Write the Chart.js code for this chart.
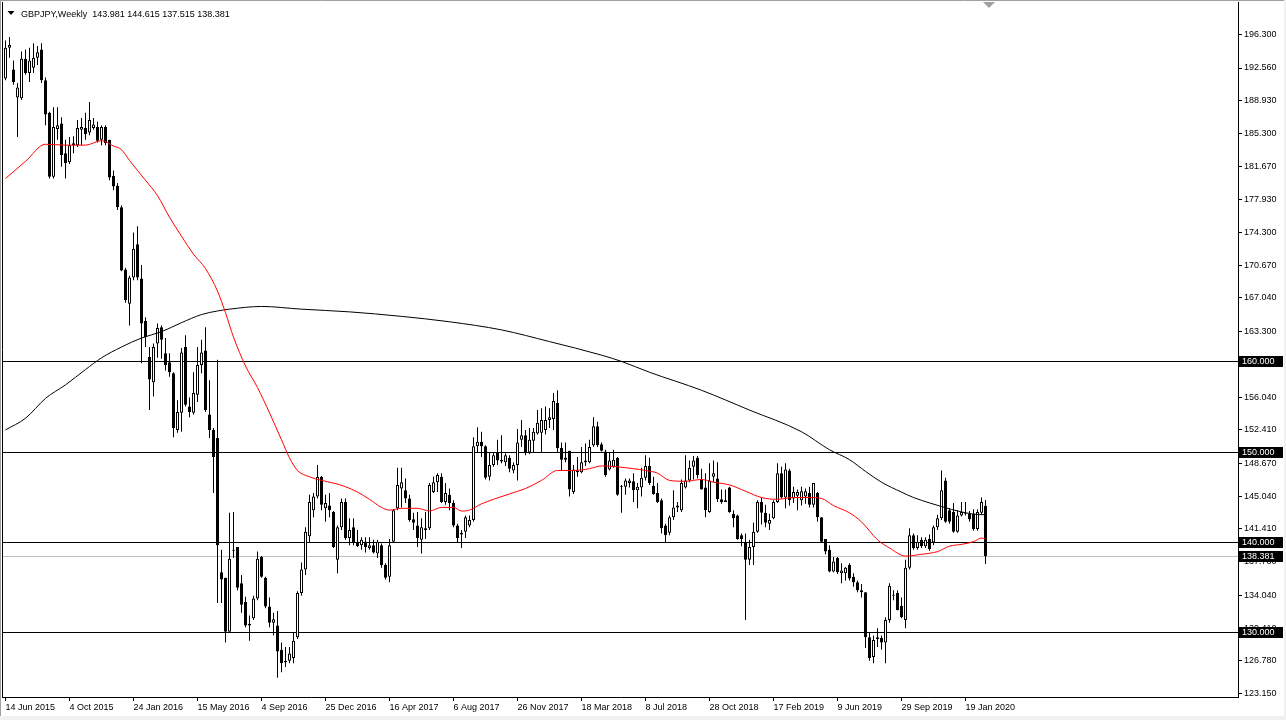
<!DOCTYPE html>
<html>
<head>
<meta charset="utf-8">
<title>GBPJPY Weekly</title>
<script src="https://cdn.jsdelivr.net/npm/chart.js@4.4.1/dist/chart.umd.min.js"></script>
<style>
  html, body { margin: 0; padding: 0; background: #fff; }
  #wrap { width: 1286px; height: 720px; }
</style>
</head>
<body>
<div id="wrap"><canvas id="myChart" width="1286" height="720"></canvas></div>
<script>
const symbolTitle = "GBPJPY,Weekly";
const lastBarText = "143.981 144.615 137.515 138.381";

// one date label every 16 weekly bars, starting at bar 0
const xTickStep = 16;
const xTickLabels = ["14 Jun 2015", "4 Oct 2015", "24 Jan 2016", "15 May 2016", "4 Sep 2016",
    "25 Dec 2016", "16 Apr 2017", "6 Aug 2017", "26 Nov 2017", "18 Mar 2018", "8 Jul 2018",
    "28 Oct 2018", "17 Feb 2019", "9 Jun 2019", "29 Sep 2019", "19 Jan 2020"];

const yTickValues = [196.300, 192.560, 188.930, 185.300, 181.670, 177.930, 174.300, 170.670,
    167.040, 163.300, 159.670, 156.040, 152.410, 148.670, 145.040, 141.410, 137.780, 134.040,
    130.410, 126.780, 123.150];

const levels = [160, 150, 140, 130];
const lastPrice = 138.381;

// weekly candles, 14 Jun 2015 .. 23 Feb 2020
const opens = [
    191.4, 194.8, 192.4, 189.3, 189.2, 193.6, 192.0, 192.6, 193.7, 194.6,
    191.2, 187.6, 180.5, 185.8, 186.4, 183.1, 182.1, 184.0, 184.0, 185.7,
    185.9, 185.4, 185.9, 186.0, 184.6, 186.0, 184.6, 180.6, 179.5, 177.1,
    170.2, 166.4, 169.3, 173.0, 169.2, 164.5, 160.5, 157.7, 162.0, 163.8,
    160.9, 159.9, 158.7, 152.4, 154.3, 161.6, 155.0, 154.3, 156.3, 159.6,
    161.2, 154.1, 152.4, 151.5, 136.6, 136.0, 130.0, 139.0, 139.4, 135.4,
    133.3, 130.7, 131.5, 133.7, 138.3, 136.0, 132.8, 131.0, 130.7, 128.0,
    126.6, 126.8, 127.1, 129.4, 134.3, 136.9, 140.6, 143.5, 145.0, 147.2,
    143.7, 144.0, 143.3, 138.0, 141.6, 144.4, 140.4, 141.6, 139.9, 139.6,
    140.0, 139.3, 139.6, 138.7, 139.6, 137.4, 136.1, 140.0, 143.7, 145.9,
    145.7, 144.8, 142.5, 141.8, 140.2, 141.5, 141.5, 145.5, 146.6, 147.2,
    144.4, 145.2, 144.3, 141.8, 140.8, 141.1, 141.8, 142.4, 150.6, 151.1,
    150.6, 147.2, 148.5, 149.9, 149.1, 148.8, 149.3, 147.9, 148.5, 151.3,
    151.8, 149.9, 151.2, 152.0, 152.1, 152.4, 153.5, 153.6, 155.4, 150.4,
    149.1, 150.1, 145.5, 147.7, 147.7, 148.8, 148.8, 150.7, 152.8, 150.8,
    150.0, 148.0, 148.3, 149.3, 146.1, 146.1, 146.5, 146.7, 145.7, 146.0,
    147.1, 148.4, 146.2, 145.4, 144.6, 141.8, 141.0, 142.7, 143.8, 143.5,
    146.0, 146.8, 148.3, 149.3, 146.9, 146.0, 143.3, 147.2, 147.0, 144.7,
    144.6, 146.0, 143.1, 142.9, 140.7, 139.9, 138.0, 139.4, 141.1, 144.4,
    143.2, 142.0, 142.6, 144.4, 147.6, 144.9, 147.9, 144.8, 145.1, 144.6,
    145.0, 145.4, 144.1, 145.4, 142.7, 140.3, 139.1, 136.7, 138.2, 136.5,
    136.5, 137.4, 136.1, 135.5, 134.6, 134.4, 129.4, 127.2, 129.2, 129.3,
    128.8, 131.3, 134.0, 134.3, 132.9, 131.3, 137.1, 140.7, 139.3, 140.2,
    139.5, 140.3, 139.9, 141.6, 142.6, 146.8, 143.5, 143.3, 141.1, 142.9,
    143.1, 143.1, 143.1, 141.4, 143.2, 143.981
];
const highs = [
    195.6, 196.0, 193.4, 190.9, 194.4, 194.6, 194.8, 195.3, 195.0, 195.3,
    191.5, 187.7, 188.2, 188.2, 187.1, 184.6, 184.9, 185.0, 186.8, 187.0,
    187.6, 188.8, 187.0, 186.6, 186.2, 186.2, 184.6, 181.2, 179.8, 177.3,
    170.4, 169.5, 174.3, 175.0, 170.7, 164.9, 161.6, 162.0, 164.2, 164.0,
    162.6, 160.9, 158.8, 155.7, 161.5, 162.9, 156.0, 158.8, 161.6, 162.4,
    163.8, 157.9, 152.6, 160.2, 139.1, 136.0, 143.2, 143.3, 139.4, 136.3,
    133.9, 131.8, 134.0, 138.9, 138.4, 136.1, 133.8, 132.1, 132.3, 128.8,
    128.3, 128.3, 129.9, 134.5, 137.7, 141.6, 145.2, 145.4, 148.5, 147.3,
    145.2, 145.4, 143.4, 141.8, 144.8, 144.8, 142.6, 142.6, 141.3, 140.5,
    140.5, 140.5, 140.2, 140.2, 139.8, 137.6, 140.3, 143.6, 148.2, 148.2,
    147.0, 145.2, 143.2, 143.3, 142.6, 143.3, 146.5, 147.2, 147.6, 147.6,
    146.5, 145.9, 144.6, 142.0, 141.3, 142.9, 142.9, 151.6, 152.7, 152.2,
    150.7, 149.9, 149.9, 151.3, 151.8, 149.8, 149.6, 148.8, 152.5, 153.5,
    152.4, 152.6, 152.6, 154.6, 154.8, 155.0, 154.8, 156.5, 156.8, 151.0,
    151.0, 150.1, 148.5, 149.4, 150.5, 150.9, 151.3, 153.8, 153.3, 151.0,
    150.2, 149.9, 150.2, 149.4, 146.3, 147.0, 147.0, 147.6, 146.5, 148.2,
    149.6, 149.3, 147.2, 146.5, 144.8, 142.0, 142.9, 145.7, 144.4, 146.9,
    149.6, 149.0, 149.5, 149.5, 148.1, 147.6, 148.7, 149.0, 148.8, 145.8,
    145.8, 146.1, 143.5, 143.0, 140.9, 140.9, 140.2, 142.1, 144.6, 144.9,
    144.1, 143.1, 144.6, 148.7, 148.3, 148.7, 148.1, 146.1, 145.8, 146.1,
    145.9, 146.1, 146.5, 145.5, 142.7, 140.3, 139.6, 138.3, 138.3, 137.6,
    137.2, 137.6, 136.5, 135.7, 135.3, 134.4, 129.9, 129.6, 130.4, 129.6,
    131.6, 135.4, 134.6, 134.6, 133.8, 138.0, 141.5, 140.9, 140.7, 140.5,
    140.5, 140.8, 141.8, 143.0, 147.9, 147.1, 143.7, 144.3, 143.5, 144.4,
    144.4, 143.4, 143.6, 143.6, 144.9, 144.615
];
const lows = [
    191.2, 193.7, 190.7, 184.9, 189.0, 191.8, 191.0, 192.0, 192.9, 190.9,
    186.2, 180.3, 180.3, 184.6, 181.6, 180.3, 181.9, 183.1, 183.8, 184.0,
    184.6, 185.1, 185.7, 184.3, 184.0, 184.0, 180.1, 179.0, 176.8, 170.0,
    166.5, 164.0, 169.0, 169.0, 159.8, 161.6, 154.6, 156.1, 160.4, 160.3,
    159.0, 158.3, 151.6, 152.1, 152.2, 155.0, 153.8, 154.1, 155.5, 158.7,
    154.4, 151.5, 145.4, 133.2, 133.2, 128.8, 130.0, 138.2, 134.6, 132.1,
    130.5, 129.0, 131.3, 133.5, 136.0, 132.6, 130.5, 129.6, 124.9, 125.5,
    126.1, 126.5, 126.5, 129.2, 134.0, 136.3, 139.9, 142.7, 144.8, 143.5,
    142.2, 142.7, 139.3, 136.5, 141.3, 140.2, 139.6, 139.6, 139.4, 139.1,
    138.8, 139.1, 138.7, 138.2, 137.1, 135.8, 135.5, 139.9, 143.5, 143.8,
    144.3, 142.2, 141.3, 139.4, 138.7, 140.3, 141.3, 145.4, 145.5, 144.3,
    144.1, 143.5, 141.6, 139.9, 139.3, 140.4, 141.6, 142.2, 149.9, 149.4,
    146.9, 146.8, 148.3, 148.5, 148.7, 148.4, 147.7, 147.6, 146.8, 150.5,
    149.6, 149.7, 149.9, 151.9, 149.9, 151.9, 152.6, 152.4, 149.9, 147.9,
    148.8, 145.0, 145.3, 147.2, 147.6, 148.4, 148.7, 150.5, 150.5, 150.0,
    147.2, 147.9, 148.2, 145.1, 143.2, 145.2, 146.0, 144.4, 143.7, 145.0,
    146.8, 146.3, 145.2, 144.3, 140.9, 139.9, 140.7, 142.4, 143.3, 143.3,
    145.9, 146.6, 146.9, 147.0, 145.8, 142.7, 143.2, 146.6, 144.4, 144.2,
    144.4, 143.2, 141.6, 140.2, 139.5, 131.3, 137.4, 137.4, 141.0, 141.9,
    141.6, 141.3, 142.5, 144.3, 144.8, 143.7, 144.0, 144.3, 143.5, 144.0,
    144.2, 143.8, 143.8, 142.2, 139.9, 138.6, 136.6, 136.6, 136.4, 135.4,
    135.7, 135.7, 135.0, 134.4, 133.8, 128.2, 126.8, 126.5, 128.3, 128.0,
    126.5, 131.0, 133.5, 132.4, 131.5, 130.4, 136.9, 139.1, 139.1, 139.3,
    139.3, 139.0, 139.6, 141.3, 142.4, 142.1, 142.0, 141.0, 141.0, 142.8,
    142.9, 142.2, 141.2, 141.2, 143.0, 137.515
];
const closes = [
    194.8, 195.1, 191.0, 190.4, 193.6, 192.0, 193.4, 193.7, 194.3, 191.2,
    187.4, 180.5, 186.0, 186.2, 182.9, 182.0, 184.0, 184.2, 185.9, 186.0,
    185.2, 186.8, 186.3, 184.5, 186.0, 184.2, 180.4, 179.4, 177.1, 170.1,
    166.8, 169.3, 172.5, 169.3, 164.2, 162.7, 158.0, 161.6, 163.7, 162.4,
    159.6, 158.8, 152.6, 154.4, 161.0, 155.2, 154.4, 156.5, 159.6, 161.0,
    154.6, 152.4, 149.4, 139.6, 135.8, 130.0, 138.1, 139.1, 134.9, 133.0,
    130.7, 130.9, 133.7, 138.1, 136.1, 132.8, 131.0, 131.4, 127.8, 126.5,
    126.8, 127.6, 129.0, 134.3, 136.9, 141.1, 144.4, 145.0, 147.2, 144.1,
    144.3, 143.5, 139.4, 141.6, 144.4, 140.4, 141.3, 139.9, 139.5, 140.2,
    139.4, 139.6, 138.8, 140.0, 137.4, 136.0, 139.6, 143.5, 146.3, 146.6,
    144.8, 142.4, 142.1, 140.4, 141.6, 141.3, 146.3, 146.6, 147.4, 144.4,
    145.4, 144.3, 141.8, 140.4, 141.0, 142.7, 142.4, 150.6, 151.1, 150.6,
    147.1, 148.5, 149.6, 149.0, 148.9, 149.6, 148.1, 148.5, 151.0, 151.8,
    149.8, 151.3, 152.2, 153.2, 153.5, 153.5, 153.8, 155.6, 150.4, 149.1,
    149.3, 145.8, 148.0, 147.9, 148.8, 149.0, 150.5, 152.8, 150.7, 150.1,
    147.4, 149.0, 149.1, 145.2, 146.2, 146.8, 146.8, 145.7, 146.1, 147.1,
    148.4, 146.5, 145.3, 144.4, 141.5, 140.7, 142.7, 143.8, 144.0, 146.5,
    146.8, 148.2, 149.0, 147.4, 145.8, 143.5, 146.8, 147.6, 144.7, 144.4,
    144.4, 143.3, 142.6, 140.3, 140.3, 138.0, 139.4, 141.1, 144.4, 143.2,
    142.1, 142.4, 144.4, 147.6, 144.9, 148.0, 144.6, 145.5, 145.5, 145.6,
    145.6, 144.1, 146.5, 142.7, 140.0, 138.9, 136.7, 137.8, 136.6, 136.8,
    137.1, 135.9, 135.5, 134.6, 134.4, 129.4, 127.1, 129.1, 129.4, 128.8,
    131.3, 135.1, 134.1, 132.4, 131.6, 137.1, 140.7, 139.3, 140.0, 139.5,
    140.2, 139.2, 141.6, 142.6, 145.7, 142.2, 142.2, 141.1, 142.9, 143.3,
    143.2, 142.5, 141.4, 143.3, 144.4, 138.381
];

// moving averages at these bar numbers
const redMaIdx = [0, 5, 10, 15, 20, 24, 27, 29, 31, 35, 38, 41, 44, 47, 50, 53, 55, 57, 60, 63,
    66, 69, 71, 73, 76, 79, 82, 85, 88, 91, 94, 96, 99, 103, 106, 109, 112, 114, 116, 119,
    122, 126, 130, 134, 138, 142, 146, 149, 153, 157, 160, 163, 166, 170, 174, 177, 181, 185, 189, 193,
    197, 201, 204, 207, 211, 214, 218, 221, 225, 229, 233, 236, 239, 242, 244, 245];
const redMaVal = [180.3, 182.2, 184.1, 184.0, 184.0, 184.5, 183.9, 183.5, 182.3, 180.1, 178.4, 176.0, 173.9, 171.9, 170.3, 167.8, 165.4, 162.7, 159.5, 157.1,
    154.3, 151.3, 149.3, 147.9, 147.2, 146.8, 146.5, 146.1, 145.5, 144.7, 143.8, 143.5, 143.7, 143.7, 143.4, 143.8, 143.8, 143.4, 143.5, 144.2,
    144.7, 145.3, 145.9, 146.8, 147.9, 147.9, 148.1, 148.4, 148.3, 148.1, 147.9, 147.6, 146.8, 146.7, 146.9, 146.6, 146.3, 145.6, 144.9, 144.7,
    144.9, 144.9, 144.8, 144.0, 143.2, 142.2, 140.2, 139.3, 138.4, 138.6, 138.9, 139.5, 139.7, 140.0, 140.4, 140.3];

const blackMaIdx = [0, 5, 10, 15, 20, 24, 29, 34, 39, 44, 49, 53, 56, 64, 74, 86, 99, 111, 124, 136,
    149, 154, 161, 174, 186, 199, 206, 211, 215, 219, 224, 227, 231, 234, 239, 244, 245];
const blackMaVal = [152.4, 153.7, 155.9, 157.4, 159.1, 160.4, 161.6, 162.6, 163.3, 164.3, 165.2, 165.6, 165.8, 166.1, 165.8, 165.5, 165.0, 164.4, 163.5, 162.2,
    160.7, 160.0, 158.8, 156.8, 154.6, 152.2, 150.2, 149.1, 147.8, 146.6, 145.5, 144.9, 144.3, 143.9, 143.3, 143.0, 143.0];

const ctx = document.querySelector("#myChart");

Chart.defaults.font.family = "'Liberation Sans', Arial, sans-serif";
Chart.defaults.font.size = 9;
Chart.defaults.color = "#000";

const wickData = opens.map((o, i) => ({ x: i, y: [lows[i], highs[i]] }));
const bodyData = opens.map((o, i) => ({ x: i, y: [o, closes[i]] }));

function drawBox(c, text, py) {
    c.fillStyle = "#000";
    c.fillRect(1239, py - 5, 44, 11);
    c.fillStyle = "#fff";
    c.textAlign = "left";
    c.textBaseline = "middle";
    c.fillText(text, 1242, py + 0.5);
}

const mtDecor = {
    id: "mtDecor",
    beforeDraw(chart) {
        const c = chart.ctx;
        c.save();
        c.fillStyle = "#fff";
        c.fillRect(0, 0, chart.width, chart.height);
        c.restore();
    },
    beforeDatasetsDraw(chart) {
        const c = chart.ctx;
        const a = chart.chartArea;
        const y = chart.scales.y;
        c.save();
        c.lineWidth = 1;
        let py = Math.round(y.getPixelForValue(lastPrice)) + 0.5;
        c.strokeStyle = "#c0c0c0";
        c.beginPath(); c.moveTo(a.left, py); c.lineTo(a.right, py); c.stroke();
        c.strokeStyle = "#000";
        levels.forEach(v => {
            const ly = Math.round(y.getPixelForValue(v)) + 0.5;
            c.beginPath(); c.moveTo(a.left, ly); c.lineTo(a.right, ly); c.stroke();
        });
        c.restore();
    },
    afterDraw(chart) {
        const c = chart.ctx;
        const a = chart.chartArea;
        const y = chart.scales.y;
        c.save();
        c.font = "9px 'Liberation Sans', Arial, sans-serif";
        levels.forEach(v => drawBox(c, v.toFixed(3), Math.round(y.getPixelForValue(v))));
        drawBox(c, lastPrice.toFixed(3), Math.round(y.getPixelForValue(lastPrice)));

        // frame
        c.lineWidth = 1;
        c.strokeStyle = "#a0a0a0";
        c.beginPath(); c.moveTo(0, 0.5); c.lineTo(chart.width, 0.5); c.stroke();
        c.beginPath(); c.moveTo(0.5, 0); c.lineTo(0.5, chart.height); c.stroke();
        c.strokeStyle = "#000";
        c.beginPath(); c.moveTo(2.5, 2); c.lineTo(2.5, a.bottom); c.stroke();
        c.fillStyle = "#f0f0f0";
        c.fillRect(0, 716, chart.width, 4);
        c.fillRect(1284, 0, 2, chart.height);

        // header
        c.fillStyle = "#000";
        c.beginPath(); c.moveTo(7.5, 11); c.lineTo(14.5, 11); c.lineTo(11, 15); c.closePath(); c.fill();
        c.textAlign = "left";
        c.textBaseline = "alphabetic";
        c.fillText(symbolTitle + "  " + lastBarText, 21, 16.5);

        // chart shift marker
        c.fillStyle = "#a0a0a0";
        c.beginPath(); c.moveTo(983, 2); c.lineTo(995, 2); c.lineTo(989, 8); c.closePath(); c.fill();
        c.restore();
    }
};

let myChart = new Chart(ctx, {
    type: "bar",
    data: {
        datasets: [
            {
                type: "line",
                label: "MA red",
                data: redMaIdx.map((x, k) => ({ x: x, y: redMaVal[k] })),
                borderColor: "#ff0000",
                borderWidth: 1,
                pointRadius: 0,
                cubicInterpolationMode: "monotone",
                order: 0
            },
            {
                type: "line",
                label: "MA black",
                data: blackMaIdx.map((x, k) => ({ x: x, y: blackMaVal[k] })),
                borderColor: "#000000",
                borderWidth: 1,
                pointRadius: 0,
                cubicInterpolationMode: "monotone",
                order: 0
            },
            {
                label: "bodies",
                data: bodyData,
                barThickness: 3,
                minBarLength: 1,
                backgroundColor: c => closes[c.dataIndex] >= opens[c.dataIndex] ? "#ffffff" : "#000000",
                borderColor: "#000000",
                borderWidth: 1,
                borderSkipped: false,
                inflateAmount: 0,
                grouped: false,
                order: 1
            },
            {
                label: "wicks",
                data: wickData,
                barThickness: 1,
                backgroundColor: "#000000",
                borderWidth: 0,
                inflateAmount: 0,
                grouped: false,
                order: 2
            }
        ]
    },
    options: {
        responsive: false,
        devicePixelRatio: 1,
        animation: false,
        events: [],
        layout: { padding: { left: 2, top: 2, right: 0, bottom: 0 } },
        plugins: { legend: { display: false }, tooltip: { enabled: false } },
        scales: {
            x: {
                type: "linear",
                min: -0.875,
                max: 308.125,
                offset: false,
                afterBuildTicks: s => { s.ticks = xTickLabels.map((_, k) => ({ value: k * xTickStep })); },
                afterFit: s => { s.height = 23; s.paddingLeft = 0; s.paddingRight = 0; },
                ticks: {
                    autoSkip: false, maxRotation: 0, minRotation: 0, align: "start", padding: 1,
                    callback: (v, i) => xTickLabels[i]
                },
                grid: { drawOnChartArea: false, drawTicks: true, tickLength: 4, color: "#000", offset: false },
                border: { display: true, color: "#000" }
            },
            y: {
                type: "linear",
                position: "right",
                min: 122.764,
                max: 199.884,
                afterBuildTicks: s => { s.ticks = yTickValues.map(v => ({ value: v })); },
                afterFit: s => { s.width = 48; s.paddingTop = 0; s.paddingBottom = 0; },
                ticks: { autoSkip: false, padding: 2, callback: v => Number(v).toFixed(3) },
                grid: { drawOnChartArea: false, drawTicks: true, tickLength: 4, color: "#000" },
                border: { display: true, color: "#000" }
            }
        }
    },
    plugins: [mtDecor]
});
</script>
</body>
</html>
